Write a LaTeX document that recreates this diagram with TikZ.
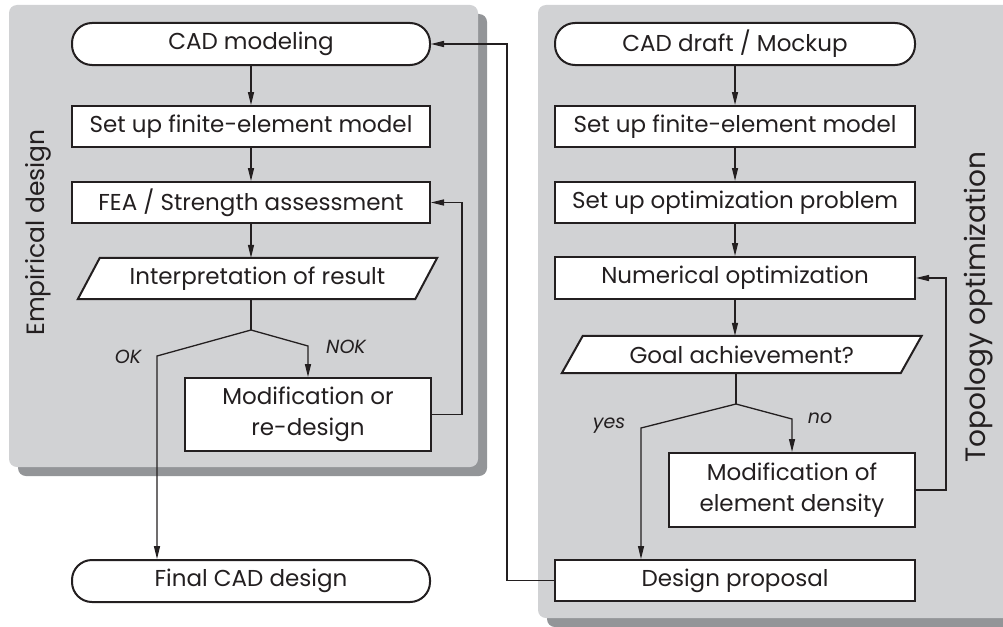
\documentclass[tikz,border=0pt]{standalone}
\usepackage{fontspec}
\setmainfont{Poppins}
\usetikzlibrary{arrows.meta}
\pgfdeclarelayer{panel}
\pgfdeclarelayer{shape}
\pgfsetlayers{panel,shape,main}
\definecolor{ink}{HTML}{231F20}
\definecolor{panelgray}{HTML}{D1D2D4}
\definecolor{shadowgray}{HTML}{939598}
\tikzset{
  x=1pt, y=-1pt,
  base/.style={inner sep=0pt, align=center, font=\fontsize{23}{31}\selectfont, text=ink},
  stepbox/.style={base, draw=ink, line width=2pt, fill=white, minimum height=41pt},
  terminal/.style={stepbox, rounded corners=20pt, minimum height=42pt},
  slanted/.style={base, minimum height=41pt},
  slantline/.style={draw=ink, line width=2pt, fill=white},
  flow/.style={draw=ink, line width=1.3pt, -{Triangle[length=13pt,width=6pt]}},
  line/.style={draw=ink, line width=1.3pt},
  branchlabel/.style={font=\fontsize{19}{22}\selectfont\itshape, text=ink, inner sep=0pt},
  sidelabel/.style={text=ink, rotate=90, inner sep=0pt},
  panelbox/.style={fill=panelgray, rounded corners=8pt},
  panelshadow/.style={fill=shadowgray, rounded corners=8pt},
}
% parallelogram drawn around a plain text node
\newcommand\slantframe[2]{%
  \begin{pgfonlayer}{shape}
    \path[slantline] ([xshift=#2]#1.north west) -- ([xshift=#2]#1.north east)
      -- ([xshift=-#2]#1.south east) -- ([xshift=-#2]#1.south west) -- cycle;
  \end{pgfonlayer}}
\begin{document}
\begin{tikzpicture}
\useasboundingbox (0,0) rectangle (1003,626);
\clip (0,0) rectangle (1003,626);

% background panels with offset shadows
\begin{pgfonlayer}{panel}
  \path[panelshadow] (18,14) rectangle (487,476);
  \path[panelbox] (9,5) rectangle (478,467);
  \path[panelshadow] (547,14) rectangle (1030,627);
  \path[panelbox] (538,5) rectangle (1020,618);
\end{pgfonlayer}

\node[sidelabel, font=\fontsize{25}{28}\selectfont] (empirical) at (38.5,232.5) {Empirical design};
\node[sidelabel, font=\fontsize{28}{32}\selectfont] (topology) at (979,307) {Topology optimization};

% empirical design chain
\node[terminal, minimum width=358pt] (cadmod) at (251,44) {CAD modeling};
\node[stepbox, minimum width=358pt] (femL) at (251,126.5) {Set up finite-element model};
\node[stepbox, minimum width=358pt] (fea) at (251,202.5) {FEA / Strength assessment};
\node[slanted, minimum width=337pt] (interp) at (257.5,278.5) {Interpretation of result};
\slantframe{interp}{11pt}
\node[stepbox, minimum width=246pt, minimum height=73pt] (modL) at (308,414.5) {Modification or\\re-design};
\node[terminal, minimum width=358pt] (final) at (251,581) {Final CAD design};

\coordinate (forkL) at (251,330);
\coordinate (okL) at (157,356);
\coordinate (nokL) at (308,346);
\coordinate (backL) at (462,414.5);

\draw[flow] (cadmod.south) -- (femL.north);
\draw[flow] (femL.south) -- (fea.north);
\draw[flow] (fea.south) -- (fea.south |- interp.north);
\draw[line] (forkL |- interp.south) -- (forkL);
\draw[flow] (forkL) -- (okL) -- (okL |- final.north);
\draw[flow] (forkL) -- (nokL) -- (modL.north);
\draw[flow] (modL.east) -- (backL) -- (backL |- fea.east) -- (fea.east);
\node[branchlabel] (okLbl) at (128,357) {OK};
\node[branchlabel] (nokLbl) at (346,347) {NOK};

% topology optimization chain
\node[terminal, minimum width=360pt] (draft) at (735,44) {CAD draft / Mockup};
\node[stepbox, minimum width=360pt] (femR) at (735,126.5) {Set up finite-element model};
\node[stepbox, minimum width=360pt] (optprob) at (735,202.5) {Set up optimization problem};
\node[stepbox, minimum width=360pt, minimum height=42pt] (numopt) at (735,278) {Numerical optimization};
\node[slanted, minimum width=338.5pt, minimum height=37pt] (goal) at (741.75,354.5) {Goal achievement?};
\slantframe{goal}{10.5pt}
\node[stepbox, minimum width=246pt, minimum height=74pt] (modR) at (792,490) {Modification of\\element density};
\node[stepbox, minimum width=360pt] (proposal) at (735,580.5) {Design proposal};

\coordinate (forkR) at (736,404);
\coordinate (yesR) at (641,428);
\coordinate (noR) at (792,419);
\coordinate (backR) at (946,490);
\coordinate (returnL) at (507,580.5);

\draw[flow] (draft.south) -- (femR.north);
\draw[flow] (femR.south) -- (optprob.north);
\draw[flow] (optprob.south) -- (numopt.north);
\draw[flow] (numopt.south) -- (numopt.south |- goal.north);
\draw[line] (forkR |- goal.south) -- (forkR);
\draw[flow] (forkR) -- (yesR) -- (yesR |- proposal.north);
\draw[flow] (forkR) -- (noR) -- (modR.north);
\draw[flow] (modR.east) -- (backR) -- (backR |- numopt.east) -- (numopt.east);
\draw[flow] (proposal.west) -- (returnL) -- (returnL |- cadmod.east) -- (cadmod.east);
\node[branchlabel] (yesLbl) at (609,426) {yes};
\node[branchlabel] (noLbl) at (820,418) {no};
\end{tikzpicture}
\end{document}
